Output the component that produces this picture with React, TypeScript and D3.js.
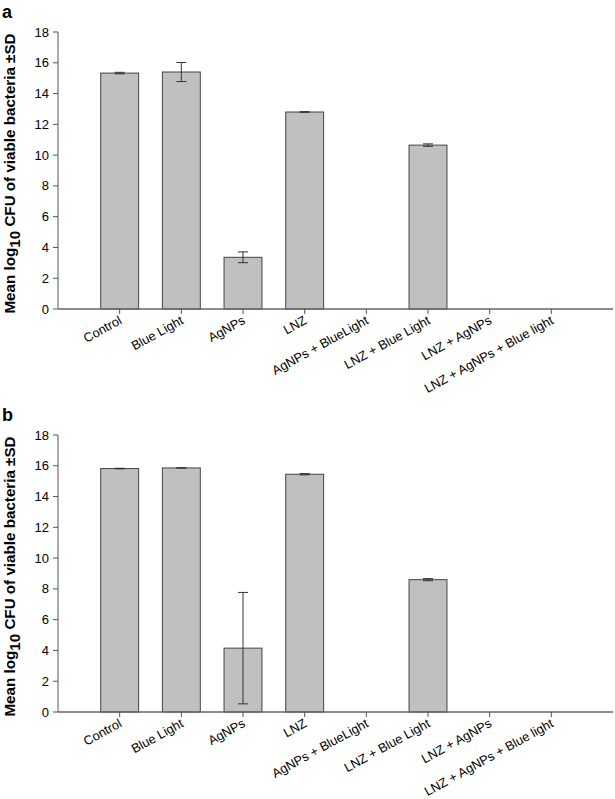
import * as d3 from "d3";
import React from "react";

const categories = [
  "Control",
  "Blue  Light",
  "AgNPs",
  "LNZ",
  "AgNPs + BlueLight",
  "LNZ + Blue Light",
  "LNZ + AgNPs",
  "LNZ + AgNPs + Blue light",
];

// panel a
const meansA = [15.33, 15.4, 3.36, 12.8, 0, 10.65, 0, 0];
const sdA = [0.05, 0.62, 0.35, 0.02, 0, 0.08, 0, 0];
// panel b
const meansB = [15.82, 15.86, 4.15, 15.45, 0, 8.6, 0, 0];
const sdB = [0.02, 0.01, 3.62, 0.04, 0, 0.07, 0, 0];

const yTicks = [0, 2, 4, 6, 8, 10, 12, 14, 16, 18];

const W = 615;
const H = 799;
const FONT = "Liberation Sans, Arial, sans-serif";

function Panel({ letter, means, sd, top, bottom }: { letter: string; means: number[]; sd: number[]; top: number; bottom: number }) {
  const left = 58;
  const right = 613;
  const x = d3.scalePoint<string>().domain(categories).range([left, right]).padding(1);
  const y = d3.scaleLinear().domain([0, 18]).range([bottom, top]);
  const barW = x.step() * 0.615;
  const mid = (top + bottom) / 2 + 3;

  return (
    <g>
      <text x={2} y={top - 14} fontFamily={FONT} fontWeight="bold" fontSize={18}>{letter}</text>
      <text
        transform={`translate(15, ${mid}) rotate(-90)`}
        textAnchor="middle"
        fontFamily={FONT}
        fontWeight="bold"
        fontSize={15.2}
      >
        Mean log<tspan dy={5}>10</tspan><tspan dy={-5}> CFU of viable bacteria ±SD</tspan>
      </text>
      {means.map((m, i) =>
        m > 0 ? (
          <rect
            key={"b" + i}
            x={x(categories[i])! - barW / 2}
            y={y(m)}
            width={barW}
            height={y(0) - y(m)}
            fill="#c0c0c0"
            stroke="#444"
            strokeWidth={1}
          />
        ) : null
      )}
      {means.map((m, i) => {
        if (m <= 0) return null;
        const cx = x(categories[i])!;
        const y1 = y(m + sd[i]);
        const y2 = y(m - sd[i]);
        return (
          <g key={"e" + i} stroke="#333" strokeWidth={1}>
            <line x1={cx} x2={cx} y1={y1} y2={y2} />
            <line x1={cx - 5} x2={cx + 5} y1={y1} y2={y1} />
            <line x1={cx - 5} x2={cx + 5} y1={y2} y2={y2} />
          </g>
        );
      })}
      {/* y axis */}
      <line x1={left} x2={left} y1={top} y2={bottom} stroke="#555" strokeWidth={1} />
      {yTicks.map((t) => (
        <g key={"y" + t}>
          <line x1={left - 5} x2={left} y1={y(t)} y2={y(t)} stroke="#555" />
          <text x={left - 9} y={y(t)} dy="0.35em" textAnchor="end" fontFamily={FONT} fontSize={13}>
            {t}
          </text>
        </g>
      ))}
      {/* x axis */}
      <line x1={left} x2={right} y1={bottom} y2={bottom} stroke="#666" strokeWidth={1.5} />
      {categories.map((c) => (
        <g key={"x" + c}>
          <line x1={x(c)} x2={x(c)} y1={bottom} y2={bottom + 5} stroke="#555" />
          <text
            transform={`translate(${x(c)! + 3}, ${bottom + 14}) rotate(-29)`}
            textAnchor="end"
            fontFamily={FONT}
            fontSize={12.8}
          >
            {c}
          </text>
        </g>
      ))}
    </g>
  );
}

export default function App() {
  return (
    <svg
      width={W}
      height={H}
      style={{ position: "absolute", top: 0, left: 0, background: "#fff" }}
    >
      <rect width={W} height={H} fill="#fff" />
      <Panel letter="a" means={meansA} sd={sdA} top={32} bottom={309} />
      <Panel letter="b" means={meansB} sd={sdB} top={435} bottom={712} />
    </svg>
  );
}
